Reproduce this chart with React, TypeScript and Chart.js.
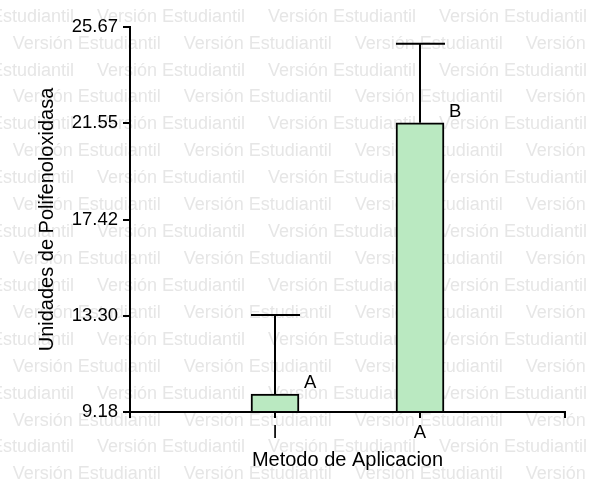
import React, { useEffect, useRef } from "react";
import { Chart, registerables } from "chart.js";

Chart.register(...registerables);

const categories = ["I", "A"];
const means = [9.95, 21.57];
const upperErrors = [13.33, 24.95];
const sigLetters = ["A", "B"];
const yTickValues = [9.18, 13.3, 17.42, 21.55, 25.67];
const yTickLabels = ["9.18", "13.30", "17.42", "21.55", "25.67"];
const xTitle = "Metodo de Aplicacion";
const yTitle = "Unidades de Polifenoloxidasa";
const watermarkText = "Versión Estudiantil";

const FONT = '"Liberation Sans", Arial, Helvetica, sans-serif';

const watermarkPlugin = {
  id: "watermark",
  beforeDraw(chart: any) {
    const ctx = chart.ctx;
    ctx.save();
    ctx.font = `18px ${FONT}`;
    ctx.fillStyle = "#e6e6e6";
    ctx.textBaseline = "alphabetic";
    ctx.textAlign = "left";
    const period = 171;
    for (let r = 0; r < 19; r++) {
      const y = 21.7 + r * 26.92;
      const start = r % 2 === 1 ? 12.7 : -74;
      for (let x = start - period; x < chart.width + period; x += period) {
        ctx.fillText(watermarkText, x, y);
      }
    }
    ctx.restore();
  },
};

const errorPlugin = {
  id: "errorbars",
  afterDatasetsDraw(chart: any) {
    const ctx = chart.ctx;
    const meta = chart.getDatasetMeta(0);
    const yScale = chart.scales.y;
    ctx.save();
    ctx.strokeStyle = "#000";
    ctx.lineWidth = 2;
    ctx.fillStyle = "#000";
    ctx.font = `18.5px ${FONT}`;
    ctx.textAlign = "left";
    ctx.textBaseline = "alphabetic";
    meta.data.forEach((bar: any, i: number) => {
      const cx = Math.round(bar.x);
      const top = yScale.getPixelForValue(means[i]);
      const errTop = yScale.getPixelForValue(upperErrors[i]);
      const half = bar.width / 2;
      ctx.beginPath();
      ctx.moveTo(cx, top);
      ctx.lineTo(cx, errTop);
      ctx.moveTo(cx - half, errTop);
      ctx.lineTo(cx + half + 1, errTop);
      ctx.stroke();
      ctx.fillText(sigLetters[i], cx + half + 5, top - 6);
    });
    ctx.restore();
  },
};

export default function App() {
  const ref = useRef<HTMLCanvasElement>(null);

  useEffect(() => {
    if (!ref.current) return;
    const chart = new Chart(ref.current, {
      type: "bar",
      data: {
        datasets: [
          {
            data: categories.map((c, i) => ({ x: i + 1, y: means[i] })),
            base: yTickValues[0],
            backgroundColor: "rgb(186,233,193)",
            borderColor: "#000",
            borderWidth: 2,
            borderSkipped: "bottom",
            barThickness: 48,
            clip: false,
          } as any,
        ],
      },
      options: {
        responsive: false,
        animation: false,
        layout: { padding: { left: 0, right: 27, top: 27, bottom: 0 } },
        plugins: {
          legend: { display: false },
          tooltip: { enabled: false },
        },
        scales: {
          x: {
            type: "linear",
            min: 0,
            max: 3,
            offset: false,
            afterBuildTicks: (s: any) => {
              s.ticks = [0, 1, 2, 3].map((v) => ({ value: v }));
            },
            afterFit: (s: any) => {
              s.height = 69;
              s.paddingLeft = 0;
              s.paddingRight = 0;
            },
            ticks: {
              autoSkip: false,
              maxRotation: 0,
              padding: 4,
              color: "#000",
              font: { family: FONT, size: 18.5 },
              callback: (v: any) => {
                const idx = Math.round(Number(v)) - 1;
                return idx >= 0 && idx < categories.length ? categories[idx] : "";
              },
            },
            grid: {
              display: true,
              offset: false,
              drawOnChartArea: false,
              drawTicks: true,
              tickLength: 6,
              color: "#000",
              lineWidth: 2,
            },
            border: { display: true, color: "#000", width: 2 },
            title: {
              display: true,
              text: xTitle,
              color: "#000",
              font: { family: FONT, size: 20 },
              padding: { top: 0, bottom: 9 },
            },
          },
          y: {
            type: "linear",
            min: yTickValues[0],
            max: yTickValues[yTickValues.length - 1],
            afterBuildTicks: (s: any) => {
              s.ticks = yTickValues.map((v) => ({ value: v }));
            },
            afterFit: (s: any) => {
              s.width = 130;
              s.paddingTop = 0;
              s.paddingBottom = 0;
            },
            ticks: {
              autoSkip: false,
              padding: 5,
              color: "#000",
              font: { family: FONT, size: 18.5 },
              callback: (_v: any, i: number) => yTickLabels[i],
            },
            grid: {
              display: true,
              drawOnChartArea: false,
              drawTicks: true,
              tickLength: 7,
              color: "#000",
              lineWidth: 2,
            },
            border: { display: true, color: "#000", width: 2 },
            title: {
              display: true,
              text: yTitle,
              color: "#000",
              font: { family: FONT, size: 20 },
              padding: { top: 35, bottom: 0 },
            },
          },
        },
      },
      plugins: [watermarkPlugin, errorPlugin],
    } as any);
    return () => chart.destroy();
  }, []);

  return (
    <div style={{ position: "fixed", left: 0, top: 0, width: 592, height: 481 }}>
      <canvas ref={ref} width={592} height={481} style={{ display: "block" }} />
    </div>
  );
}
